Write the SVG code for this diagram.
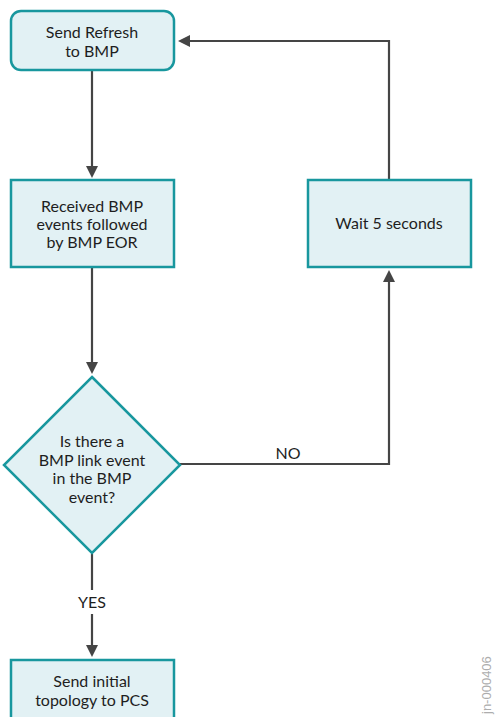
<svg xmlns="http://www.w3.org/2000/svg" width="496" height="717" viewBox="0 0 496 717">
<style>
.n{fill:#e2f1f4;stroke:#18979e;stroke-width:2.5}
.t{font-family:Lato,"Liberation Sans",sans-serif;font-size:16px;fill:#1e1e1e;text-anchor:middle}
.c{fill:none;stroke:#454545;stroke-width:2.2}
</style>
<rect width="496" height="717" fill="#fff"/>
<g id="connectors">
<line class="c" x1="92" y1="71" x2="92" y2="166"/>
<path d="M86,166 L98,166 L92,178 z" fill="#454545"/>
<line class="c" x1="92" y1="268" x2="92" y2="362"/>
<path d="M86,362 L98,362 L92,374 z" fill="#454545"/>
<line class="c" x1="92" y1="554" x2="92" y2="590"/>
<line class="c" x1="92" y1="614" x2="92" y2="645"/>
<path d="M86,645 L98,645 L92,657 z" fill="#454545"/>
<polyline class="c" points="180,464 389,464 389,282"/>
<path d="M383,282 L395,282 L389,270 z" fill="#454545"/>
<polyline class="c" points="389,179 389,41 190,41"/>
<path d="M190,35 L190,47 L178,41 z" fill="#454545"/>
<text class="t" x="288" y="459">NO</text>
<text class="t" x="92" y="608">YES</text>
</g>
<g id="n1">
<rect class="n" x="11" y="11" width="163" height="59" rx="10"/>
<text class="t" x="92" y="38">Send Refresh</text>
<text class="t" x="92" y="57">to BMP</text>
</g>
<g id="n2">
<rect class="n" x="11" y="180" width="163" height="87"/>
<text class="t" x="92" y="212">Received BMP</text>
<text class="t" x="92" y="230">events followed</text>
<text class="t" x="92" y="248">by BMP EOR</text>
</g>
<g id="n3">
<rect class="n" x="308" y="180" width="163" height="87"/>
<text class="t" x="389" y="229">Wait 5 seconds</text>
</g>
<g id="n4">
<polygon class="n" points="92,377 180,465 92,553 4,465"/>
<text class="t" x="92" y="447">Is there a</text>
<text class="t" x="92" y="466">BMP link event</text>
<text class="t" x="92" y="484">in the BMP</text>
<text class="t" x="92" y="503">event?</text>
</g>
<g id="n5">
<rect class="n" x="11" y="660" width="163" height="70"/>
<text class="t" x="92" y="687">Send initial</text>
<text class="t" x="92" y="706">topology to PCS</text>
</g>
<text transform="translate(491,714) rotate(-90)" font-family="'Liberation Sans',sans-serif" font-size="13" fill="#adadad">jn-000406</text>
</svg>
